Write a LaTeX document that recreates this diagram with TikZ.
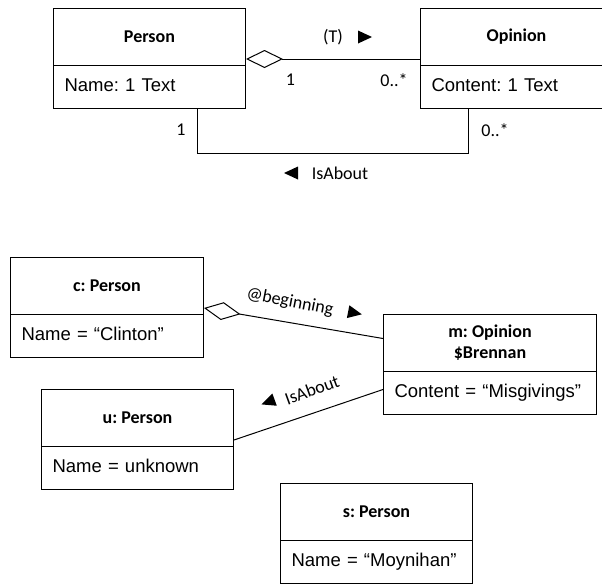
\documentclass[tikz,border=0pt]{standalone}
\usepackage{fontspec}
\setmainfont{Liberation Sans}
\newfontfamily\carlito{Carlito}
\usetikzlibrary{arrows.meta}
\frenchspacing
\tikzset{
 box/.style={draw, line width=1pt, inner sep=0pt},
 hdr/.style={box, font=\carlito\bfseries\fontsize{18}{21}\selectfont, align=center, minimum height=57pt, anchor=north west},
 attr/.style={box, font=\fontsize{18.5}{22}\selectfont, align=left, inner xsep=11pt, inner ysep=0pt, minimum height=43pt, anchor=north west, text height=13.5pt, text depth=4pt},
 lbl/.style={font=\carlito\fontsize{18}{21}\selectfont, inner sep=0pt},
 conn/.style={line width=1pt},
 agg/.style={conn, {Diamond[open,length=37pt,width=18pt]}-},
}
\newcommand\arrtri[3]{\fill[shift={(#1,#2)}, rotate=#3] (7,0) -- (-7,6.5) -- (-7,-6.5) -- cycle;}
\begin{document}
\begin{tikzpicture}[x=1pt, y=-1pt]
\useasboundingbox (0,0) rectangle (602,584);
\clip (0,0) rectangle (602,584);
% class diagram
\node[hdr, minimum width=192pt] (phdr) at (53,8) {Person};
\node[attr, text width=170pt] (pattr) at (53,65) {Name: 1 Text};
\node[hdr, minimum width=192pt] (ohdr) at (420,8) {Opinion};
\node[attr, text width=170pt] (oattr) at (420,65) {Content: 1 Text};
\draw[agg] ([yshift=7pt]phdr.south east) -- ([yshift=7pt]ohdr.south west);
\node[lbl] (tl) at (333,37) {(T)};
\arrtri{365}{37}{0}
\node[lbl] (m1) at (290.5,80) {1};
\node[lbl] (m2) at (394,80) {0..*};
\draw[conn] ([xshift=48pt]pattr.south) -- ++(0,44) -| ([xshift=-48pt]oattr.south);
\node[lbl] (b1) at (181,130) {1};
\node[lbl] (b2) at (495,130) {0..*};
\arrtri{291}{173}{180}
\node[lbl] (bl) at (340,173) {IsAbout};
% object diagram
\node[hdr, minimum width=193pt] (chdr) at (10,257) {c: Person};
\node[attr, text width=171pt] (cattr) at (10,314) {Name = “Clinton”};
\node[hdr, minimum width=213pt] (mhdr) at (383,314) {m: Opinion\\\$Brennan};
\node[attr, text width=191pt] (mattr) at (383,371) {Content = “Misgivings”};
\node[hdr, minimum width=192pt] (uhdr) at (41,389) {u: Person};
\node[attr, text width=170pt] (uattr) at (41,446) {Name = unknown};
\node[hdr, minimum width=192pt] (shdr) at (280,483) {s: Person};
\node[attr, text width=170pt] (sattr) at (280,540) {Name = “Moynihan”};
\draw[agg] ([yshift=7pt]chdr.south east) -- ([yshift=4.5pt]mhdr.west);
\node[lbl, rotate=-11] (bg) at (290,302) {@beginning};
\arrtri{355}{313}{-11}
\draw[conn] ([yshift=7pt]uhdr.south east) -- ([yshift=3.5pt]mattr.west);
\node[lbl, rotate=20] (ia) at (312,390) {IsAbout};
\arrtri{268}{402}{200}
\end{tikzpicture}
\end{document}
